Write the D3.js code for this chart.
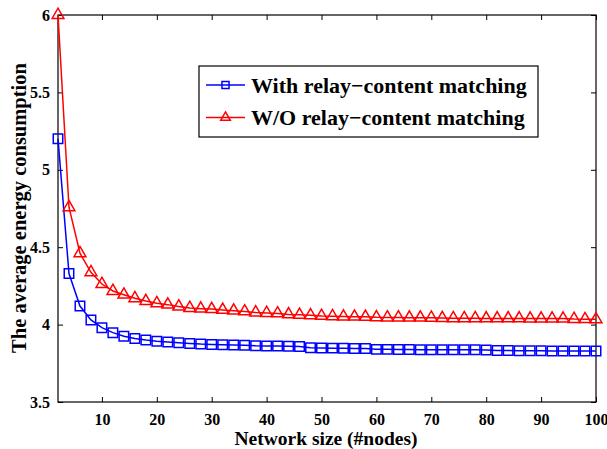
<!DOCTYPE html>
<html>
<head>
<meta charset="utf-8">
<script src="https://cdn.jsdelivr.net/npm/d3@7"></script>
<style>
  body { margin: 0; background: #fff; }
  text { font-family: "Liberation Serif", "Times New Roman", serif; font-weight: bold; }
</style>
</head>
<body>
<div id="chart"></div>
<script>
// network size (#nodes)
const nodes = d3.range(2, 101, 2);

const withMatching = [
    5.20, 4.33, 4.12, 4.03, 3.98, 3.948, 3.925, 3.91, 3.90, 3.893,
    3.888, 3.883, 3.878, 3.874, 3.872, 3.870, 3.868, 3.866, 3.863, 3.862,
    3.861, 3.860, 3.858, 3.850, 3.849, 3.848, 3.847, 3.846, 3.845, 3.840,
    3.840, 3.839, 3.839, 3.838, 3.838, 3.838, 3.837, 3.837, 3.837, 3.836,
    3.832, 3.832, 3.831, 3.831, 3.831, 3.830, 3.830, 3.830, 3.830, 3.830
];

const withoutMatching = [
    6.00, 4.758, 4.461, 4.338, 4.262, 4.217, 4.193, 4.170, 4.152, 4.138,
    4.129, 4.117, 4.107, 4.103, 4.100, 4.095, 4.090, 4.085, 4.078, 4.075,
    4.072, 4.066, 4.063, 4.060, 4.056, 4.054, 4.052, 4.051, 4.050, 4.047,
    4.046, 4.046, 4.045, 4.045, 4.044, 4.042, 4.041, 4.041, 4.041, 4.040,
    4.040, 4.040, 4.040, 4.039, 4.039, 4.039, 4.039, 4.036, 4.035, 4.034
];

const xTicks = [10, 20, 30, 40, 50, 60, 70, 80, 90, 100];
const yTicks = [3.5, 4, 4.5, 5, 5.5, 6];
const legendLabels = ["With relay\u2212content matching", "W/O relay\u2212content matching"];

const width = 607, height = 449;
const pLeft = 58, pRight = 596, pTop = 15, pBottom = 402;

const svg = d3.select("#chart").append("svg")
    .attr("width", width)
    .attr("height", height);

const x = d3.scaleLinear().domain([2, 100]).range([pLeft, pRight]);
const y = d3.scaleLinear().domain([3.5, 6]).range([pBottom, pTop]);

// frame
svg.append("rect")
    .attr("x", pLeft).attr("y", pTop)
    .attr("width", pRight - pLeft).attr("height", pBottom - pTop)
    .attr("fill", "none").attr("stroke", "#000").attr("stroke-width", 1.2);

// inward ticks on all four sides
svg.append("g").attr("transform", `translate(0,${pBottom})`)
    .call(d3.axisBottom(x).tickValues(xTicks).tickSizeInner(-5).tickSizeOuter(0).tickPadding(12).tickFormat(d3.format("")))
    .call(g => g.select(".domain").remove());
svg.append("g").attr("transform", `translate(0,${pTop})`)
    .call(d3.axisTop(x).tickValues(xTicks).tickSizeInner(-5).tickSizeOuter(0).tickFormat(""))
    .call(g => g.select(".domain").remove());
svg.append("g").attr("transform", `translate(${pLeft},0)`)
    .call(d3.axisLeft(y).tickValues(yTicks).tickSizeInner(-5).tickSizeOuter(0).tickPadding(8).tickFormat(d3.format("")))
    .call(g => g.select(".domain").remove());
svg.append("g").attr("transform", `translate(${pRight},0)`)
    .call(d3.axisRight(y).tickValues(yTicks).tickSizeInner(-5).tickSizeOuter(0).tickFormat(""))
    .call(g => g.select(".domain").remove());

svg.selectAll(".tick text")
    .attr("font-size", 16)
    .attr("font-family", "Liberation Serif")
    .attr("font-weight", "bold")
    .attr("fill", "#000");
svg.selectAll(".tick line").attr("stroke", "#000");

// axis titles
svg.append("text")
    .attr("x", 326)
    .attr("y", 445)
    .attr("text-anchor", "middle")
    .attr("font-size", 19.5)
    .text("Network size (#nodes)");

svg.append("text")
    .attr("transform", "translate(26,208) rotate(-90)")
    .attr("text-anchor", "middle")
    .attr("font-size", 20.5)
    .text("The average energy consumption");

const series = [
    { values: withMatching, color: "#0000ff", marker: "square" },
    { values: withoutMatching, color: "#ff0000", marker: "triangle" }
];

const line = d3.line()
    .x(d => x(d[0]))
    .y(d => y(d[1]));

const symSquare = d3.symbol().type(d3.symbolSquare).size(90);
const symTri = d3.symbol().type(d3.symbolTriangle).size(60);
const legSquare = d3.symbol().type(d3.symbolSquare).size(50);
const legTri = d3.symbol().type(d3.symbolTriangle).size(40);

series.forEach(s => {
    const pts = nodes.map((n, i) => [n, s.values[i]]);
    svg.append("path")
        .datum(pts)
        .attr("d", line)
        .attr("fill", "none")
        .attr("stroke", s.color)
        .attr("stroke-width", 1.5);

    svg.append("g").selectAll("path")
        .data(pts).enter()
        .append("path")
        .attr("transform", d => `translate(${x(d[0])},${y(d[1])})`)
        .attr("d", s.marker === "square" ? symSquare : symTri)
        .attr("fill", "none")
        .attr("stroke", s.color)
        .attr("stroke-width", 1.5);
});

// legend
const lg = svg.append("g");
lg.append("rect")
    .attr("x", 199).attr("y", 66)
    .attr("width", 339).attr("height", 71)
    .attr("fill", "#fff").attr("stroke", "#000").attr("stroke-width", 1.2);

series.forEach((s, i) => {
    const ly = 85 + i * 32.5;
    lg.append("line")
        .attr("x1", 206).attr("x2", 245)
        .attr("y1", ly).attr("y2", ly)
        .attr("stroke", s.color).attr("stroke-width", 1.5);
    lg.append("path")
        .attr("transform", `translate(225.5,${ly})`)
        .attr("d", s.marker === "square" ? legSquare : legTri)
        .attr("fill", "none")
        .attr("stroke", s.color)
        .attr("stroke-width", 1.5);
    lg.append("text")
        .attr("x", 251)
        .attr("y", ly + 7.5)
        .attr("font-size", 22)
        .text(legendLabels[i]);
});
</script>
</body>
</html>
